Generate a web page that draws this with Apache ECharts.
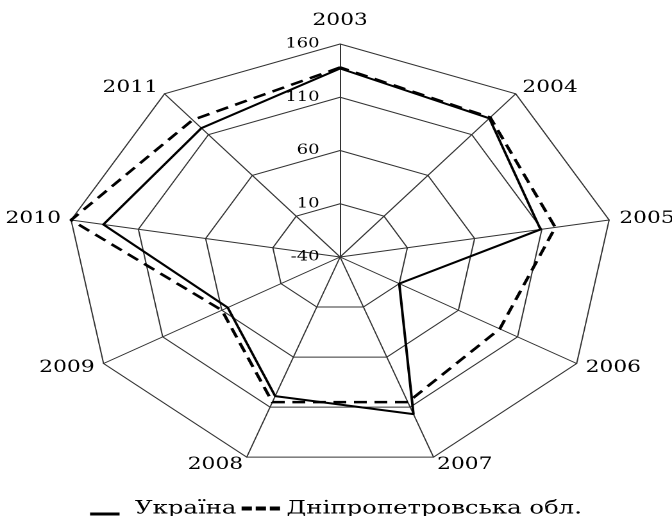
<!DOCTYPE html>
<html><head><meta charset="utf-8">
<script src="https://cdn.jsdelivr.net/npm/echarts@6/dist/echarts.min.js"></script>
<style>
html,body{margin:0;padding:0;background:#fff;overflow:hidden;}
#wrap{width:672px;height:516px;overflow:hidden;position:relative;}
#chart{width:524px;height:516px;transform:scaleX(1.28244);transform-origin:0 0;}
</style></head><body>
<div id="wrap"><div id="chart"></div></div>
<script>
const years = ['2003', '2004', '2005', '2006', '2007', '2008', '2009', '2010', '2011'];
const ukraine = [137, 130, 109, 10, 117, 99, 55, 136, 118];
const dnipro = [138, 131, 120, 95, 105, 105, 60, 160, 128];
const axisMin = -40;
const axisMax = 160;
const seriesNames = ['Україна', 'Дніпропетровська обл.'];

const FONT = 'DejaVu Serif';
// ECharts places indicators counter-clockwise; reorder so the years run clockwise
const order = [0].concat(years.map((_, i) => i).slice(1).reverse());
const pick = arr => order.map(i => arr[i]);

const chart = echarts.init(document.getElementById('chart'), null, {devicePixelRatio: 2});
const cx = 265.2, cy = 257, R = 213;

const solidIcon = 'path://M0,0h0.05v0.05h-0.05zM0,11h23v3h-23zM29.95,13.95h0.05v0.05h-0.05z';
const dashIcon = 'path://M0,0h0.05v0.05h-0.05zM0,5h8v4h-8zM11,5h8v4h-8zM22,5h8v4h-8zM29.95,13.95h0.05v0.05h-0.05z';

chart.setOption({
  animation: false,
  backgroundColor: '#fff',
  legend: {
    left: 'center',
    top: 494,
    itemWidth: 30,
    itemHeight: 14,
    itemGap: 4,
    textStyle: {fontFamily: FONT, fontSize: 19, color: '#000'},
    itemStyle: {color: '#000', borderWidth: 0},
    lineStyle: {width: 0},
    data: [
      {name: seriesNames[0], icon: solidIcon},
      {name: seriesNames[1], icon: dashIcon}
    ]
  },
  radar: [
    {
      center: [cx, cy],
      radius: R,
      startAngle: 90,
      shape: 'polygon',
      splitNumber: 4,
      indicator: pick(years).map(y => ({name: y, min: axisMin, max: axisMax})),
      nameGap: 8,
      axisName: {
        color: '#000', fontFamily: FONT, fontSize: 17,
        formatter: function (v) { return v === years[0] ? '' : v; }
      },
      splitLine: {lineStyle: {color: '#333', width: 1}},
      splitArea: {show: false},
      axisLine: {lineStyle: {color: '#333', width: 1}},
      axisTick: {show: false},
      axisLabel: {show: false}
    },
    {
      center: [cx, cy],
      radius: R,
      startAngle: 90,
      shape: 'polygon',
      splitNumber: 4,
      indicator: [{name: years[0], min: axisMin, max: axisMax}],
      nameGap: 15,
      axisName: {color: '#000', fontFamily: FONT, fontSize: 17},
      splitLine: {show: false},
      splitArea: {show: false},
      axisLine: {show: false},
      axisTick: {show: false},
      axisLabel: {show: true, color: '#000', fontFamily: FONT, fontSize: 14, margin: 16, showMinLabel: true, showMaxLabel: true}
    }
  ],
  series: [{
    type: 'radar',
    radarIndex: 0,
    symbol: 'none',
    silent: true,
    data: [
      {name: seriesNames[0], value: pick(ukraine), lineStyle: {color: '#000', width: 2, type: 'solid'}, itemStyle: {color: '#000'}},
      {name: seriesNames[1], value: pick(dnipro), lineStyle: {color: '#000', width: 2.5, type: [10, 6]}, itemStyle: {color: '#000'}}
    ]
  }]
});
</script>
</body></html>
